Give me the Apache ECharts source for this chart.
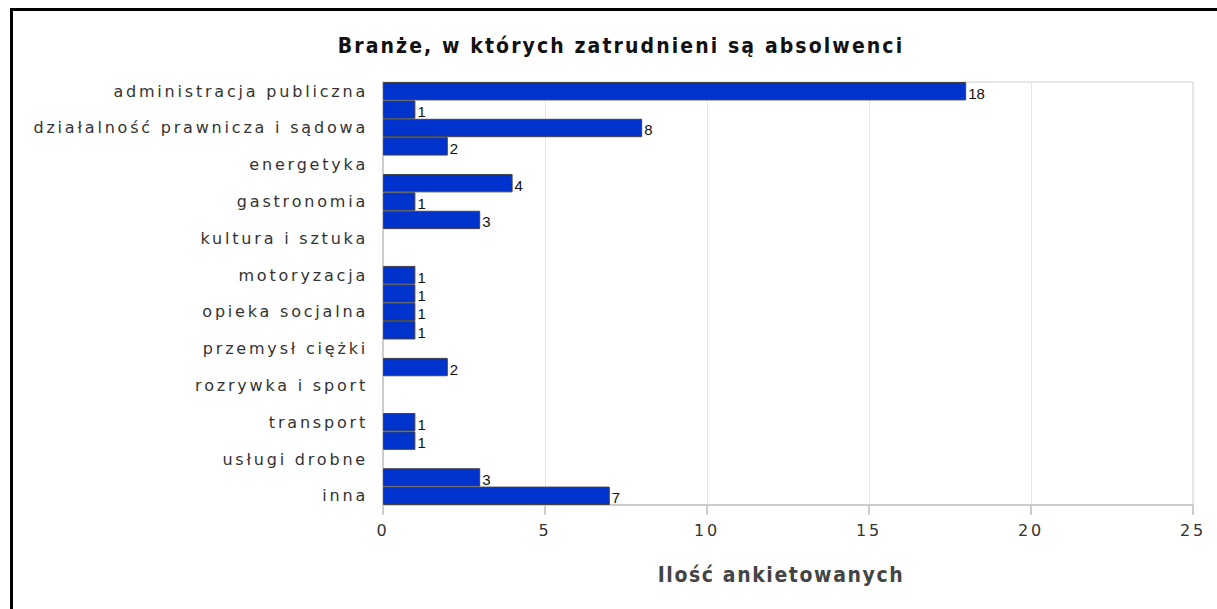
<!DOCTYPE html>
<html>
<head>
<meta charset="utf-8">
<script src="https://cdn.jsdelivr.net/npm/echarts@6/dist/echarts.min.js"></script>
<style>
  html, body { margin: 0; padding: 0; background: #fff; }
  #wrap { position: relative; width: 1217px; height: 609px; overflow: hidden; }
  #chart { width: 1217px; height: 609px; }
  #frame { position: absolute; left: 10px; top: 8px; right: -5px; bottom: -5px;
           border-left: 3px solid #000; border-top: 3px solid #000; pointer-events: none; }
  #chart text[style*="Verdana"] { letter-spacing: 2.8px; }
  #chart text[style*="Arial Narrow"] { letter-spacing: 2.1px; }
  #chart text[style*="Helvetica Condensed"] { letter-spacing: 1.6px; }
</style>
</head>
<body>
<div id="wrap">
  <div id="chart"></div>
  <div id="frame"></div>
</div>
<script>
const titleText = 'Branże, w których zatrudnieni są absolwenci';
const axisTitle = 'Ilość ankietowanych';
const categories = [
  'administracja publiczna', 'budownictwo',
  'działalność prawnicza i sądowa', 'edukacja',
  'energetyka', 'finanse i bankowość',
  'gastronomia', 'handel',
  'kultura i sztuka', 'media i reklama',
  'motoryzacja', 'ochrona zdrowia',
  'opieka socjalna', 'przemysł lekki',
  'przemysł ciężki', 'rolnictwo',
  'rozrywka i sport', 'telekomunikacja',
  'transport', 'turystyka',
  'usługi drobne', 'wojsko i policja',
  'inna'
];
const counts = [18, 1, 8, 2, 0, 4, 1, 3, 0, 0, 1, 1, 1, 1, 0, 2, 0, 0, 1, 1, 0, 3, 7];
const xTicks = { min: 0, max: 25, interval: 5 };

const titleFont = 'DejaVu Sans Condensed, Arial Narrow, sans-serif';
const nameFont = 'DejaVu Sans Condensed, Helvetica Condensed, sans-serif';
const labelFont = 'DejaVu Sans, Verdana, sans-serif';

const chart = echarts.init(document.getElementById('chart'), null, { renderer: 'svg' });
chart.setOption({
  backgroundColor: '#ffffff',
  animation: false,
  title: {
    text: titleText,
    left: 621,
    top: 35,
    textAlign: 'center',
    padding: 0,
    textStyle: { fontFamily: titleFont, fontWeight: 'bold', fontSize: 21, color: '#111' }
  },
  grid: { left: 383, right: 24, top: 82, bottom: 104, show: true, borderColor: '#d0d0d0', borderWidth: 1, containLabel: false },
  xAxis: {
    type: 'value',
    min: xTicks.min, max: xTicks.max, interval: xTicks.interval,
    name: axisTitle,
    nameLocation: 'middle',
    nameGap: 59,
    nameTextStyle: { fontFamily: nameFont, fontWeight: 'bold', fontSize: 21, color: '#444', padding: [0, 14, 0, 0] },
    axisLine: { show: true, lineStyle: { color: '#cccccc', width: 2 } },
    axisTick: { show: true, length: 10, lineStyle: { color: '#cccccc', width: 2 } },
    axisLabel: { margin: 17, fontFamily: labelFont, fontSize: 16, color: '#333' },
    splitLine: { show: true, lineStyle: { color: '#e6e6e6', width: 1 } }
  },
  yAxis: {
    type: 'category',
    inverse: true,
    data: categories,
    axisLine: { show: true, lineStyle: { color: '#cccccc', width: 2 } },
    axisTick: { show: false },
    axisLabel: { interval: 1, margin: 15, fontFamily: labelFont, fontSize: 16, color: '#333' },
    splitLine: { show: false }
  },
  series: [{
    type: 'bar',
    data: counts.map(v => v === 0 ? '-' : v),
    barCategoryGap: 0,
    itemStyle: { color: '#0033cc', borderColor: '#444444', borderWidth: 1 },
    label: {
      show: true, position: 'right', distance: 2, offset: [0, 2],
      fontFamily: 'Liberation Sans, Arial, sans-serif', fontSize: 15, color: '#111'
    }
  }]
});
</script>
</body>
</html>
